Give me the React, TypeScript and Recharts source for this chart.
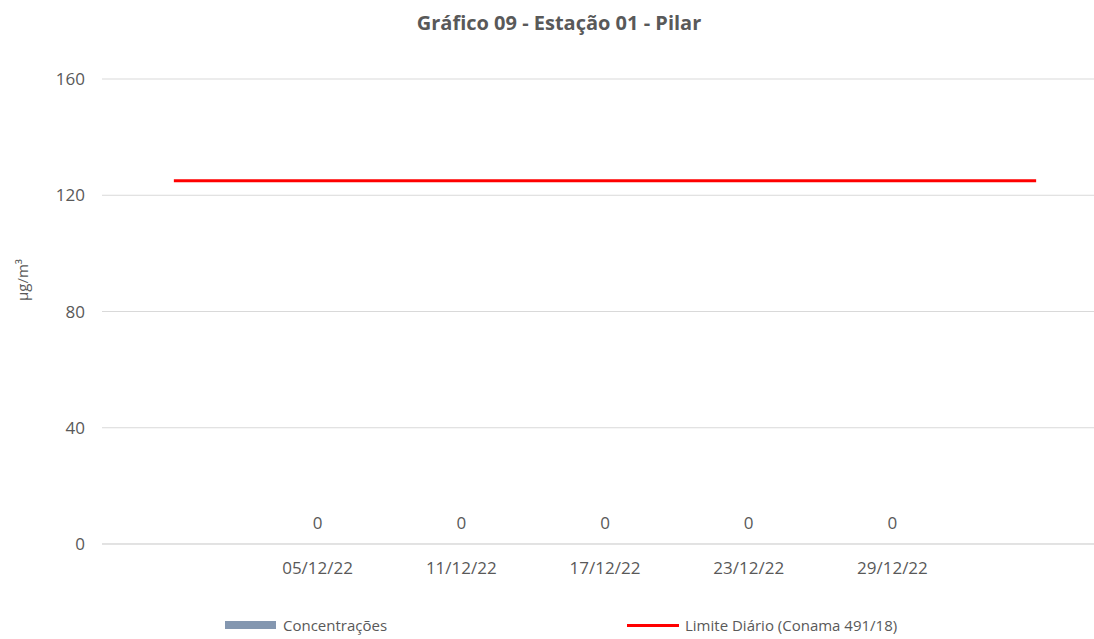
import React from "react";
import { ComposedChart, Bar, Line, XAxis, YAxis, CartesianGrid, Legend, LabelList } from "recharts";

const categories = ["", "05/12/22", "11/12/22", "17/12/22", "23/12/22", "29/12/22", " "];
const concentracoes: (number | null)[] = [null, 0, 0, 0, 0, 0, null];
const limite = [125, 125, 125, 125, 125, 125, 125];
const yTicks = [0, 40, 80, 120, 160];

const data = categories.map((c, i) => ({ date: c, conc: concentracoes[i], limite: limite[i] }));

const FONT = "'Open Sans', 'Noto Sans', sans-serif";
const TXT = "#595959";

const LegendContent = () => (
  <div style={{ position: "relative", width: 1094, height: 30, fontFamily: FONT, fontSize: 15, color: TXT }}>
    <div style={{ position: "absolute", left: 225, top: 6, display: "flex", alignItems: "center" }}>
      <span style={{ display: "inline-block", width: 51, height: 8, background: "#8497B0", marginRight: 7 }} />
      <span>Concentrações</span>
    </div>
    <div style={{ position: "absolute", left: 627, top: 6, display: "flex", alignItems: "center" }}>
      <span style={{ display: "inline-block", width: 52, height: 3, background: "#FF0000", marginRight: 6 }} />
      <span>Limite Diário (Conama 491/18)</span>
    </div>
  </div>
);

export default function App() {
  return (
    <div style={{ position: "relative", width: 1094, height: 639, background: "#fff", overflow: "hidden" }}>
      <style>{"body{margin:0}"}</style>
      <div
        style={{
          position: "absolute",
          left: 0,
          width: 1118,
          top: 9,
          textAlign: "center",
          fontFamily: FONT,
          fontWeight: 700,
          fontSize: 20,
          color: TXT,
          zIndex: 2,
        }}
      >
        Gráfico 09 - Estação 01 - Pilar
      </div>
      <ComposedChart
        width={1094}
        height={639}
        data={data}
        margin={{ top: 79, right: -14, bottom: 0, left: 0 }}
        style={{ position: "absolute", left: 0, top: 0 }}
      >
        <CartesianGrid vertical={false} stroke="#D9D9D9" strokeWidth={1} />
        <XAxis
          dataKey="date"
          height={65}
          axisLine={{ stroke: "#D9D9D9" }}
          tickLine={false}
          tickSize={0}
          tickMargin={18}
          interval={0}
          tick={{ fill: TXT, fontSize: 17, fontFamily: FONT }}
        />
        <YAxis
          width={102}
          domain={[0, 160]}
          ticks={yTicks}
          axisLine={false}
          tickLine={false}
          tickSize={0}
          tickMargin={17}
          tick={{ fill: TXT, fontSize: 17, fontFamily: FONT }}
          label={{
            content: () => (
              <text
                x={28}
                y={280}
                transform="rotate(-90 28 280)"
                textAnchor="middle"
                fill={TXT}
                fontSize={15}
                fontFamily={FONT}
              >
                µg/m³
              </text>
            ),
          }}
        />
        <Bar dataKey="conc" name="Concentrações" fill="#8497B0" isAnimationActive={false} />
        <Line
          dataKey="conc"
          name="conc-labels"
          stroke="none"
          dot={false}
          activeDot={false}
          legendType="none"
          isAnimationActive={false}
        >
          <LabelList dataKey="conc" position="top" offset={15} fill={TXT} fontSize={17} fontFamily={FONT} />
        </Line>
        <Line
          dataKey="limite"
          name="Limite Diário (Conama 491/18)"
          stroke="#FF0000"
          strokeWidth={3}
          dot={false}
          activeDot={false}
          isAnimationActive={false}
        />
        <Legend verticalAlign="bottom" wrapperStyle={{ height: 30, left: 0, bottom: 0 }} content={<LegendContent />} />
      </ComposedChart>
    </div>
  );
}
